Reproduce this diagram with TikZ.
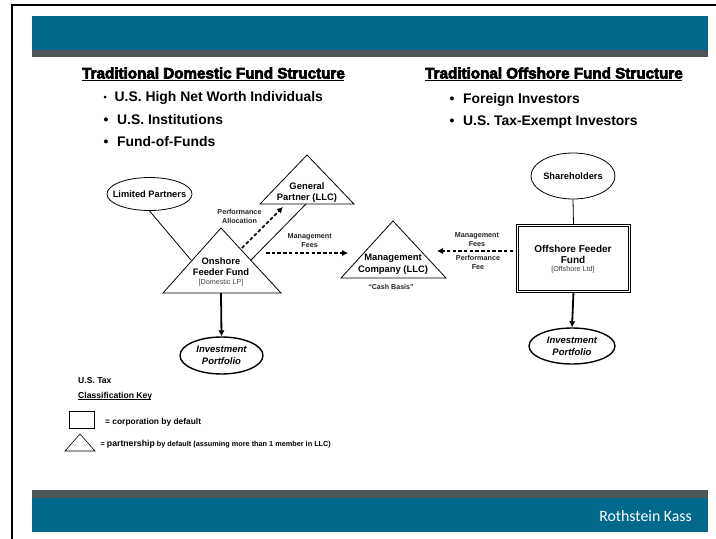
\documentclass[tikz,border=0pt]{standalone}
\usepackage{fontspec}
\setmainfont{Liberation Sans}
\newfontfamily\heavyfont[BoldFont={Liberation Sans Bold},BoldFeatures={FakeBold=4}]{Liberation Sans}
\newfontfamily\brandfont{Carlito}
\usetikzlibrary{arrows.meta,shapes.geometric}
\definecolor{bandteal}{HTML}{00698C}
\definecolor{bandgray}{HTML}{4D5759}
\tikzset{
  x=1pt,y=-1pt,
  band/.style={fill=bandteal,draw=none},
  strip/.style={fill=bandgray,draw=none},
  oval/.style={draw=black,line width=0.8pt,ellipse,inner sep=0pt,font=\fontsize{9.3}{11}\selectfont\bfseries,align=center},
  ovalthick/.style={oval,line width=1.4pt,font=\fontsize{9.5}{12}\selectfont\bfseries\itshape},
  tri/.style={draw=black,line width=0.8pt,line join=miter},
  lab/.style={inner sep=0pt,align=center,font=\fontsize{9.4}{11.5}\selectfont\bfseries},
  sub/.style={inner sep=0pt,align=center,font=\fontsize{7.2}{8}\selectfont,text=black!75},
  small/.style={inner sep=0pt,align=center,font=\fontsize{7.2}{9}\selectfont\bfseries,text=black!85},
  head/.style={inner sep=0pt,anchor=base west,font=\fontsize{15.2}{16}\selectfont\heavyfont\bfseries},
  bull/.style={inner sep=0pt,anchor=base west,font=\fontsize{13.9}{15}\selectfont\bfseries},
  key/.style={inner sep=0pt,anchor=base west,font=\fontsize{8.4}{10}\selectfont\bfseries},
  dasharrow/.style={line width=1.6pt,dash pattern=on 3.5pt off 2.2pt,-{Latex[length=6pt,width=6.5pt]}},
  thickarrow/.style={line width=1.8pt,-{Latex[length=6pt,width=6.5pt]}},
  thin link/.style={line width=0.8pt}
}
\begin{document}
\begin{tikzpicture}
\useasboundingbox (0,0) rectangle (716,539);
\fill[white] (0,0) rectangle (716,539);
% frame
\draw[line width=2pt] (12,539) -- (12,5) -- (716,5);
% bands
\fill[band] (32,16) rectangle (708,50);
\fill[strip] (32,50) rectangle (708,57);
\fill[strip] (32,490) rectangle (708,498);
\fill[band] (32,498) rectangle (708,532);
\node[inner sep=0pt,anchor=base east,text=white,font=\fontsize{15.8}{17}\selectfont\brandfont] (brand) at (692,521) {Rothstein Kass};
% headings
\node[head] (h1) at (82,78.5) {Traditional Domestic Fund Structure};
\draw[line width=0.8pt] (82,80) -- (344,80);
\node[head] (h2) at (425,78.5) {Traditional Offshore Fund Structure};
\draw[line width=0.8pt] (425,80) -- (682,80);
% bullets
\node[bull,font=\fontsize{9}{10}\selectfont\bfseries] at (103.5,100) {•};
\node[bull] at (114.5,101) {U.S. High Net Worth Individuals};
\node[bull] at (103.5,124) {•};
\node[bull] at (117,124) {U.S. Institutions};
\node[bull] at (103.5,146) {•};
\node[bull] at (117,146) {Fund-of-Funds};
\node[bull] at (449.5,103) {•};
\node[bull] at (463,103) {Foreign Investors};
\node[bull] at (449.5,125) {•};
\node[bull] at (463,125) {U.S. Tax-Exempt Investors};
% triangles
\draw[tri] (307,155) -- (354,204) -- (260,204) -- cycle;
\draw[tri] (221,228) -- (281,293) -- (163,293) -- cycle;
\draw[tri] (393,221) -- (446,278) -- (341,278) -- cycle;
\coordinate (gpbase) at (306,204);
\coordinate (gpfoot) at (251,260);
\coordinate (lpfoot) at (191,260);
\coordinate (oftop) at (242,248);
\coordinate (gptip) at (283,207);
\coordinate (ofright) at (266,253);
\coordinate (mcleft) at (348,253);
\coordinate (ofbase) at (221,293);
\coordinate (offleft) at (513,251);
\coordinate (mcright) at (437,251);
% nodes
\node[oval,minimum width=85pt,minimum height=33pt] (lp) at (149.5,194) {};
\node[inner sep=0pt,font=\fontsize{9.3}{11}\selectfont\bfseries] (lpt) at (lp.center) {Limited Partners};
\node[oval,minimum width=84pt,minimum height=46pt] (sh) at (573,176) {Shareholders};
\node[ovalthick,minimum width=83pt,minimum height=37pt] (ip1) at (221.5,355.5) {Investment\\Portfolio};
\node[ovalthick,minimum width=86pt,minimum height=36pt] (ip2) at (572,346) {Investment\\Portfolio};
\node[draw=black,line width=0.8pt,double,double distance=1.2pt,minimum width=112pt,minimum height=66pt,inner sep=0pt] (off) at (573.5,258.5) {};
% connectors
\draw[thin link] (lp.south) -- (lpfoot);
\draw[thin link] (gpbase) -- (gpfoot);
\draw[thin link] (sh.south) -- (off.north);
\draw[dasharrow] (oftop) -- (gptip);
\draw[dasharrow] (ofright) -- (mcleft);
\draw[dasharrow] (offleft) -- (mcright);
\draw[thickarrow] (ofbase) -- (ip1.north);
\draw[thickarrow] (off.south) -- (ip2.north);
% labels
\node[lab] at (307,192.5) {General\\Partner (LLC)};
\node[lab] at (221,266.5) {Onshore\\Feeder Fund};
\node[sub] at (221,282.5) {[Domestic LP]};
\node[lab,font=\fontsize{9.4}{12}\selectfont\bfseries] at (393,264) {Management\\Company (LLC)};
\node[small,font=\fontsize{7.1}{8}\selectfont\bfseries] at (391,287) {“Cash Basis”};
\node[small] at (239.5,216.5) {Performance\\Allocation};
\node[small] at (309.7,241) {Management\\Fees};
\node[small] at (477,239.5) {Management\\Fees};
\node[small] at (478,262.5) {Performance\\Fee};
\node[lab,font=\fontsize{10}{11}\selectfont\bfseries] at (573,254.5) {Offshore Feeder\\Fund};
\node[sub] at (573,269.5) {[Offshore Ltd]};
% key
\node[key,font=\fontsize{8.6}{10}\selectfont\bfseries] at (78,383) {U.S. Tax};
\node[key,font=\fontsize{8.6}{10}\selectfont\bfseries] at (78,398) {Classification Key};
\draw[line width=0.6pt] (78,399.5) -- (151,399.5);
\draw[line width=0.7pt] (69,411) rectangle (94,428);
\node[key] at (105,424) {= corporation by default};
\draw[line width=0.6pt] (80,434) -- (95,451) -- (65,451) -- cycle;
\node[key,font=\fontsize{7.3}{8}\selectfont\bfseries] at (100.5,446) {= {\fontsize{8.7}{8}\selectfont partnership} by default (assuming more than 1 member in LLC)};
\end{tikzpicture}
\end{document}
